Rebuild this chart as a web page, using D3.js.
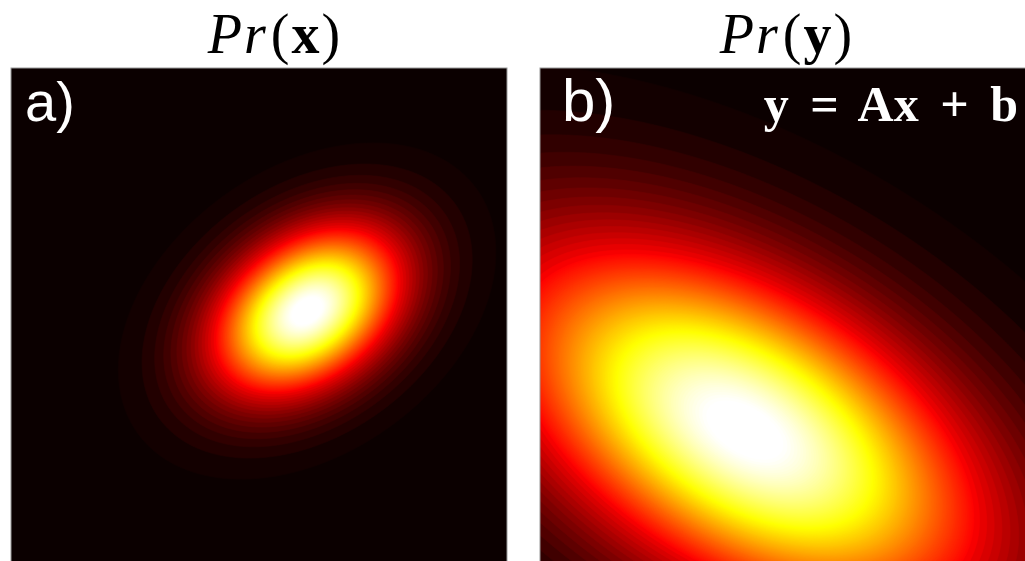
<!DOCTYPE html>
<html>
<head>
<meta charset="utf-8">
<script src="https://cdn.jsdelivr.net/npm/d3@7"></script>
<style>
  body { margin: 0; background: #fff; }
  svg { display: block; }
</style>
</head>
<body>
<svg id="chart" width="1025" height="561"></svg>
<script>
// two gaussians, given in panel units (0..10 each way, y pointing up)
var panel_names = ["a)", "b)"];
var title_vars = ["x", "y"];
var mean_x = [5.97, 4.13];
var mean_y = [5.10, 2.70];
var sd_x = [1.28, 3.23];
var sd_y = [1.14, 2.48];
var corr = [0.35, -0.5];
var formula = "y = Ax + b";

var panel_size = 496,
  panel_left = [11, 540],
  panel_top = 68,
  grid_n = 248;

// coarse steps in the dark part, fine ones higher up
var levels = d3.range(0.012, 0.36, 0.022).concat(d3.range(0.36, 1.0, 0.006));

// matplotlib "hot"
function hot(t){
  t = Math.max(0, Math.min(1, t));
  var r = t < 0.365079 ? 0.0416 + (1 - 0.0416) * t / 0.365079 : 1;
  var g = t < 0.365079 ? 0 : (t < 0.746032 ? (t - 0.365079) / (0.746032 - 0.365079) : 1);
  var b = t < 0.746032 ? 0 : (t - 0.746032) / (1 - 0.746032);
  return d3.rgb(r * 255, g * 255, b * 255).toString();
}

var color = d3.scaleSequential(hot).domain([0, 0.97]).clamp(true);

var x = d3.scaleLinear().domain([0, 10]).range([0, panel_size]);
var y = d3.scaleLinear().domain([0, 10]).range([panel_size, 0]);

var svg = d3.select("#chart");

var defs = svg.append("defs");

panel_names.forEach(function(name, k){

  defs.append("clipPath").attr("id", "clip" + k)
    .append("rect").attr("width", panel_size).attr("height", panel_size);

  var g = svg.append("g")
      .attr("transform", "translate(" + panel_left[k] + "," + panel_top + ")");

  var plot = g.append("g").attr("clip-path", "url(#clip" + k + ")");

  // density grid
  var sx = sd_x[k], sy = sd_y[k], p = corr[k];
  var values = new Array(grid_n * grid_n);
  for (var j = 0; j < grid_n; j++){
    for (var i = 0; i < grid_n; i++){
      var ux = x.invert((i + 0.5) * panel_size / grid_n),
        uy = y.invert((j + 0.5) * panel_size / grid_n);
      var dx = (ux - mean_x[k]) / sx, dy = (uy - mean_y[k]) / sy;
      var q = (dx * dx - 2 * p * dx * dy + dy * dy) / (1 - p * p);
      values[i + j * grid_n] = Math.exp(-0.5 * q);
    }
  }

  plot.append("rect")
      .attr("width", panel_size)
      .attr("height", panel_size)
      .style("fill", color(0));

  var contours = d3.contours()
      .size([grid_n, grid_n])
      .thresholds(levels)(values);

  var path = d3.geoPath(d3.geoIdentity().scale(panel_size / grid_n));

  plot.selectAll(".band")
      .data(contours)
    .enter().append("path")
      .attr("class", "band")
      .attr("d", path)
      .style("fill", function(d){ return color(d.value); })
      .style("stroke", function(d){ return color(d.value); })
      .style("stroke-width", 0.6);

  g.append("rect")
      .attr("width", panel_size)
      .attr("height", panel_size)
      .style("fill", "none")
      .style("stroke", "#9a9a9a")
      .style("stroke-width", 1);

  g.append("text")
      .attr("x", k == 0 ? 14 : 22)
      .attr("y", 53)
      .style("font-family", "'Liberation Sans', Arial, sans-serif")
      .style("font-size", k == 0 ? "56px" : "60px")
      .style("fill", "#fff")
      .text(name);

  // title Pr(x) / Pr(y)
  var t = svg.append("text")
      .attr("x", panel_left[k] + (k == 0 ? 264 : 247))
      .attr("y", 53)
      .attr("text-anchor", "middle")
      .style("font-family", "'Liberation Serif', 'Times New Roman', serif")
      .style("font-size", "56px")
      .style("letter-spacing", "2px")
      .style("fill", "#000");
  t.append("tspan").style("font-style", "italic").text("Pr");
  t.append("tspan").attr("dx", 3).text("(");
  t.append("tspan").style("font-weight", "bold").text(title_vars[k]);
  t.append("tspan").text(")");
});

// y = Ax + b
svg.append("text")
    .attr("x", 1018)
    .attr("y", 121)
    .attr("text-anchor", "end")
    .style("font-family", "'Liberation Serif', 'Times New Roman', serif")
    .style("font-weight", "bold")
    .style("font-size", "50px")
    .style("word-spacing", "9px")
    .style("fill", "#fff")
    .style("white-space", "pre")
    .text(formula);
</script>
</body>
</html>
